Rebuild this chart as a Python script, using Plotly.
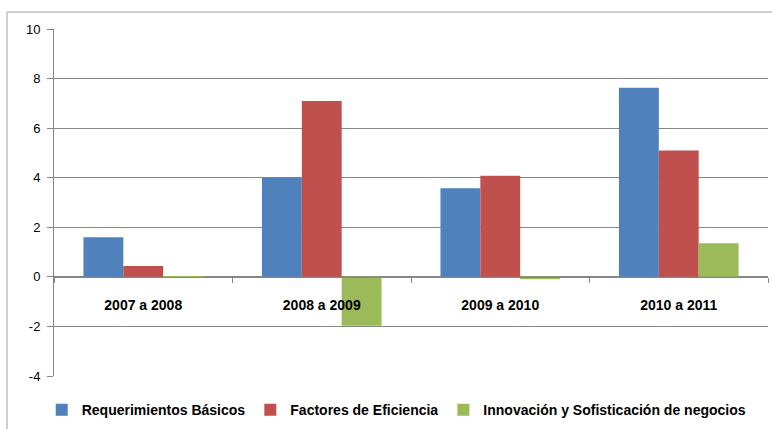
import plotly.graph_objects as go

categories = ["2007 a 2008", "2008 a 2009", "2009 a 2010", "2010 a 2011"]
series_names = ["Requerimientos Básicos", "Factores de Eficiencia",
                "Innovación y Sofisticación de negocios"]
requerimientos = [1.6, 4.0, 3.57, 7.63]
eficiencia = [0.44, 7.1, 4.08, 5.1]
innovacion = [-0.05, -1.97, -0.1, 1.36]
y_ticks = [-4, -2, 0, 2, 4, 6, 8, 10]

colors = ["#4F81BD", "#C0504D", "#9BBB59"]
font_family = "Liberation Sans"

fig = go.Figure()
for name, vals, col in zip(series_names, [requerimientos, eficiencia, innovacion], colors):
    fig.add_trace(go.Bar(x=categories, y=vals, name=name,
                         marker=dict(color=col, line=dict(width=0))))

W, H = 772, 429
l, r, t, b = 54, 4, 29, 52
pw, ph = W - l - r, H - t - b

fig.update_layout(
    width=W, height=H,
    margin=dict(l=l, r=r, t=t, b=b),
    paper_bgcolor="white", plot_bgcolor="white",
    barmode="group", bargap=0.33, bargroupgap=0,
    font=dict(family=font_family, size=13, color="black"),
    showlegend=True,
    legend=dict(orientation="h", x=0.48, xanchor="center", y=-0.095, yanchor="middle",
                font=dict(family=font_family, size=14, color="black", weight="bold"),
                itemwidth=30, traceorder="normal", tracegroupgap=0),
    xaxis=dict(
        type="category", anchor="free", position=4 / 14,
        showline=True, linecolor="#868686", linewidth=1,
        ticks="outside", tickson="boundaries", ticklen=5, tickcolor="#868686",
        ticklabelstandoff=15,
        tickfont=dict(family=font_family, size=14, color="black", weight="bold"),
        showgrid=False, zeroline=False,
    ),
    yaxis=dict(
        range=[-4, 10], tickvals=y_ticks, ticktext=[str(v) for v in y_ticks],
        ticks="outside", ticklen=6,
        tickcolor="#868686", showline=True, linecolor="#868686", linewidth=1,
        showgrid=True, gridcolor="#868686", gridwidth=1,
        zeroline=True, zerolinecolor="#868686", zerolinewidth=1,
        tickfont=dict(family=font_family, size=13, color="black"),
        ticklabelstandoff=4,
    ),
    shapes=[dict(type="rect", xref="paper", yref="paper",
                 x0=(7 - l) / pw, x1=(W + 10 - l) / pw,
                 y0=(H - b - (H + 10)) / ph, y1=(H - b - 12) / ph,
                 line=dict(color="#A0A0A0", width=1), fillcolor="rgba(0,0,0,0)",
                 layer="below")],
)
fig.write_html("out.html", config={"displayModeBar": False},
               post_script="document.body.style.margin='0';document.body.style.overflow='hidden';")
